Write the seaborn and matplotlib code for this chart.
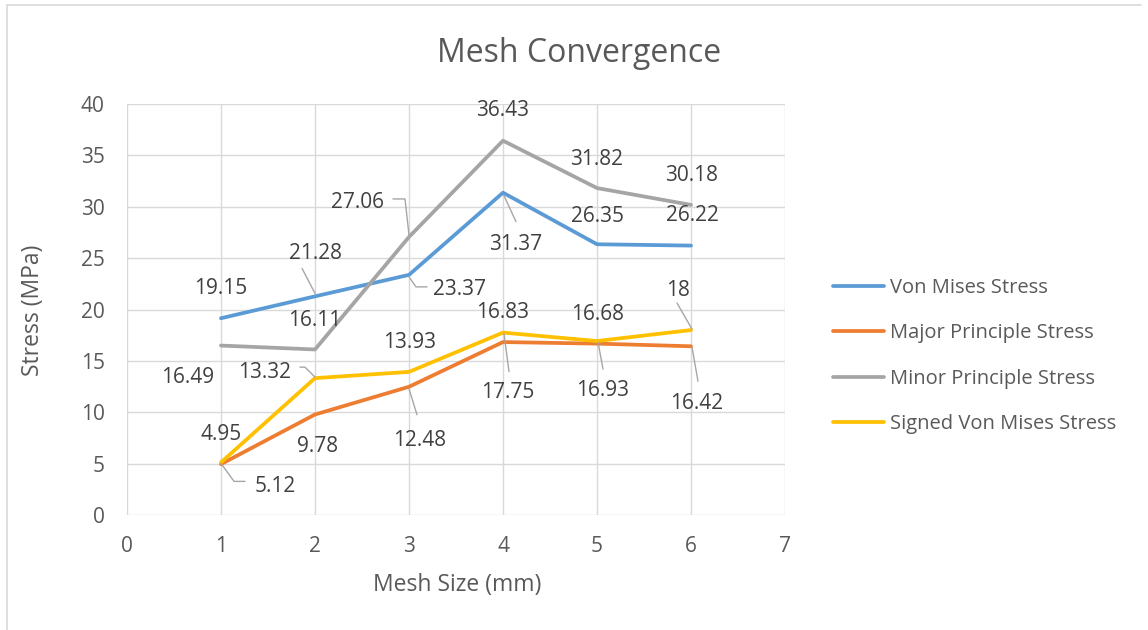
import numpy as np
import pandas as pd
import matplotlib
matplotlib.use("Agg")
import matplotlib.pyplot as plt
import matplotlib.transforms as mtransforms
from matplotlib.lines import Line2D
import seaborn as sns

# ---- data -------------------------------------------------------------
mesh_size = [1, 2, 3, 4, 5, 6]
von_mises = [19.15, 21.28, 23.37, 31.37, 26.35, 26.22]
major_principle = [4.95, 9.78, 12.48, 16.83, 16.68, 16.42]
minor_principle = [16.49, 16.11, 27.06, 36.43, 31.82, 30.18]
signed_von_mises = [5.12, 13.32, 13.93, 17.75, 16.93, 18]

series_names = ["Von Mises Stress", "Major Principle Stress",
                "Minor Principle Stress", "Signed Von Mises Stress"]
x_ticks = [0, 1, 2, 3, 4, 5, 6, 7]
y_ticks = [0, 5, 10, 15, 20, 25, 30, 35, 40]

title = "Mesh Convergence"
x_label = "Mesh Size (mm)"
y_label = "Stress (MPa)"

# ---- styling ----------------------------------------------------------
colors = ["#5B9BD5", "#ED7D31", "#A5A5A5", "#FFC000"]
TEXT = "#595959"
LABEL = "#404040"
GRID = "#D9D9D9"
LEADER = "#A6A6A6"

# data-label placement: offset of the digits' centre from its point, pixels (right, up)
label_offsets = {
    "Von Mises Stress":        [(0, 33), (0, 46), (51, -12), (13, -49), (0, 31), (1, 33)],
    "Major Principle Stress":  [(0, 33), (3, -29), (11, -51), (0, 33), (1, 32), (6, -54)],
    "Minor Principle Stress":  [(-33, -29), (0, 32), (-51, 37), (0, 33), (0, 32), (1, 32)],
    "Signed Von Mises Stress": [(54, -21), (-50, 9), (1, 32), (5, -57), (6, -46), (-13, 43)],
}
# text boxes sit a little above the digits' visual centre
DIGIT_SHIFT = -3
# leader lines: polyline vertices relative to the point, pixels (right, up)
leaders = {
    ("Von Mises Stress", 1): [(0, 3), (-13, 28)],
    ("Von Mises Stress", 2): [(0, -2), (7, -12), (18, -12)],
    ("Von Mises Stress", 3): [(1, -3), (13, -29)],
    ("Minor Principle Stress", 2): [(-16, 38), (-4, 38), (0, 2)],
    ("Major Principle Stress", 2): [(0, -2), (8, -28)],
    ("Major Principle Stress", 5): [(1, -1), (7, -35)],
    ("Signed Von Mises Stress", 0): [(0, -1), (13, -19), (24, -19)],
    ("Signed Von Mises Stress", 1): [(-15, 11), (-10, 11), (0, 1)],
    ("Signed Von Mises Stress", 3): [(1, -1), (6, -39)],
    ("Signed Von Mises Stress", 4): [(1, -1), (6, -28)],
    ("Signed Von Mises Stress", 5): [(-14, 27), (1, 1)],
}

sns.set_theme(style="white")
plt.rcParams["font.family"] = ["Open Sans", "DejaVu Sans"]

DPI = 100
fig = plt.figure(figsize=(11.48, 6.30), dpi=DPI)
ax = fig.add_axes([127 / 1148, 1 - 515 / 630, (785 - 127) / 1148, (515 - 104) / 630])

values = [von_mises, major_principle, minor_principle, signed_von_mises]
df = pd.DataFrame({
    "Mesh Size": np.tile(mesh_size, len(series_names)),
    "Stress": np.concatenate(values),
    "Series": np.repeat(series_names, len(mesh_size)),
})

sns.lineplot(data=df, x="Mesh Size", y="Stress", hue="Series",
             hue_order=series_names, palette=dict(zip(series_names, colors)),
             linewidth=2.7, sort=False, legend=False, ax=ax, zorder=3)

ax.set_xlim(x_ticks[0], x_ticks[-1])
ax.set_ylim(y_ticks[0], y_ticks[-1])
ax.set_xticks(x_ticks)
ax.set_yticks(y_ticks)
ax.grid(True, color=GRID, linewidth=1.0)
ax.set_axisbelow(True)
for s in ax.spines.values():
    s.set_visible(False)
ax.tick_params(axis="both", length=0, labelsize=15, labelcolor=TEXT)
ax.tick_params(axis="y", pad=16)
ax.tick_params(axis="x", pad=15)
ax.set_xlabel("")
ax.set_ylabel("")

fig.text(33 / 1148, 1 - 310 / 630, y_label, rotation=90, ha="center", va="center",
         fontsize=16.5, color=TEXT)
fig.text(457 / 1148, 1 - 585 / 630, x_label, ha="center", va="center",
         fontsize=16.5, color=TEXT)
fig.text(579 / 1148, 1 - 53 / 630, title, ha="center", va="center",
         fontsize=23, color=TEXT)


def point_trans(x, y):
    """Transform taking pixel offsets to display coords around data point (x, y)."""
    return (mtransforms.Affine2D().scale(1 / DPI) + fig.dpi_scale_trans
            + mtransforms.ScaledTranslation(x, y, ax.transData))


px = 72 / DPI
for name, vals in zip(series_names, values):
    for i, (xv, yv) in enumerate(zip(mesh_size, vals)):
        dx, dy = label_offsets[name][i]
        ax.annotate(f"{yv:g}", xy=(xv, yv), xytext=(dx * px, (dy + DIGIT_SHIFT) * px),
                    textcoords="offset points", ha="center", va="center",
                    fontsize=15, color=LABEL, zorder=5, annotation_clip=False)
        if (name, i) in leaders:
            verts = np.array(leaders[(name, i)], dtype=float)
            ax.add_line(Line2D(verts[:, 0], verts[:, 1], color=LEADER, lw=1.0,
                               transform=point_trans(xv, yv), zorder=4,
                               clip_on=False))

# legend to the right of the plot area
handles = [Line2D([], [], color=c, lw=2.7) for c in colors]
fig.legend(handles, series_names, loc="center left",
           bbox_to_anchor=(833 / 1148, 1 - 356 / 630), frameon=False,
           fontsize=14.5, handlelength=2.55, handletextpad=0.3,
           labelspacing=1.25, borderpad=0, borderaxespad=0,
           labelcolor=TEXT)

# chart-area border
fig.add_artist(Line2D([7 / 1148, 7 / 1148], [0, 1 - 5 / 630], color=GRID, lw=1.2,
                      transform=fig.transFigure))
fig.add_artist(Line2D([7 / 1148, 1141 / 1148], [1 - 5 / 630, 1 - 5 / 630], color=GRID,
                      lw=1.2, transform=fig.transFigure))

fig.savefig("out.png", dpi=DPI, facecolor="white")
